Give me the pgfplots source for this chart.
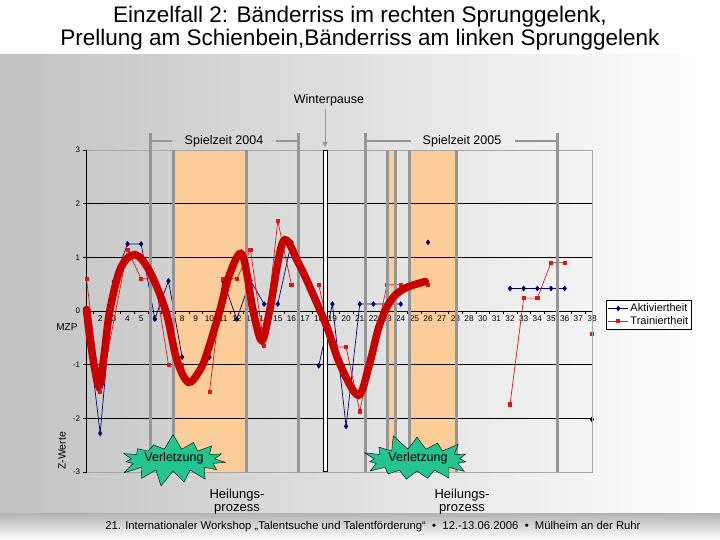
\documentclass[border=0pt]{standalone}
\usepackage{fontspec}
\setmainfont{Liberation Sans}
\usepackage{pgfplots}
\pgfplotsset{compat=1.18}
\usetikzlibrary{shapes.symbols,arrows.meta}
\definecolor{band}{RGB}{252,204,153}
\definecolor{gline}{RGB}{150,150,150}
\definecolor{aktiv}{RGB}{0,0,110}
\definecolor{train}{RGB}{225,20,20}
\definecolor{trend}{RGB}{200,0,0}
\definecolor{burst}{RGB}{36,196,144}
\begin{document}
\begin{tikzpicture}
\path[use as bounding box] (0,0) rectangle (720pt,-540pt);
\fill[white] (0,0) rectangle (720pt,-540pt);
\shade[left color=gray!48, right color=white, middle color=gray!24] (0,-55pt) rectangle (720pt,-513pt);
\shade[top color=gray!60, bottom color=white] (0,-513pt) rectangle (720pt,-540pt);
% title
\node[font=\fontsize{22.5}{26}\selectfont] at (360pt,-17pt) {Einzelfall 2: Bänderriss im rechten Sprunggelenk,};
\node[font=\fontsize{22.5}{26}\selectfont] at (360pt,-40pt) {Prellung am Schienbein,Bänderriss am linken Sprunggelenk};
% bands
\fill[band] (173pt,-150pt) rectangle (246pt,-472pt);
\fill[band] (387.5pt,-150pt) rectangle (395.5pt,-472pt);
\fill[band] (409.5pt,-150pt) rectangle (456pt,-472pt);

\begin{axis}[
  at={(86.5pt,-472pt)}, anchor=south west,
  width=505.5pt, height=322pt, scale only axis,
  xmin=1, xmax=38, ymin=-3, ymax=3,
  axis x line=middle, axis y line=left,
  axis line style={-, black, line width=0.6pt},
  every inner x axis line/.append style={-},
  every outer y axis line/.append style={-},
  hide obscured x ticks=false, hide obscured y ticks=false,
  xtick={1.5,2.5,...,37.5},
  xticklabels={2,3,4,5,6,7,8,9,10,11,12,13,14,15,16,17,18,19,20,21,22,23,24,25,26,27,28,28,30,31,32,33,34,35,36,37,38},
  xticklabel style={xshift=6.83pt, font=\fontsize{8.3}{9}\selectfont, inner sep=1.5pt},
  ytick={-3,-2,-1,0,1,2,3},
  yticklabel style={font=\fontsize{8}{9}\selectfont},
  ymajorgrids, grid style={black, line width=0.5pt},
  tick align=outside, major tick length=3pt, tick style={black, line width=0.5pt},
  unbounded coords=jump, clip=false,
  /pgf/number format/assume math mode=true,
  legend style={at={(1.028,0.534)}, anchor=north west, draw=black, fill=white,
    font=\fontsize{11}{12}\selectfont, inner sep=1.5pt, row sep=-1pt, cells={anchor=west}},
  legend image code/.code={\draw[mark repeat=2,mark phase=2] plot coordinates {(0cm,0cm) (0.35cm,0cm) (0.7cm,0cm)};},
]
\addplot[aktiv, line width=0.7pt, mark=diamond*, mark size=2.3pt, mark options={solid}] coordinates {
(1,-0.15) (2,-2.28) (3,0.55) (4,1.25) (5,1.25) (6,-0.15) (7,0.56) (8,-0.86) (9,nan)
(10,-0.86) (11,0.56) (12,-0.15) (13,0.57) (14,0.13) (15,0.13) (16,1.28) (17,nan)
(18,-1.02) (19,0.13) (20,-2.15) (21,0.13) (22,0.13) (23,0.13) (24,0.13) (25,nan)
(26,1.28) (27,nan) (32,0.42) (33,0.42) (34,0.42) (35,0.42) (36,0.42) (37,nan) (38,-2.02)};
\addlegendentry{Aktiviertheit}
\addplot[train, line width=0.7pt, mark=square*, mark size=1.6pt, mark options={solid}] coordinates {
(1,0.6) (2,-1.51) (4,1.14) (5,0.6) (6,0.6) (7,-1.0) (8,-1.0) (9,nan)
(10,-1.51) (11,0.6) (12,0.6) (13,1.14) (14,-0.65) (15,1.68) (16,0.49) (17,nan)
(18,0.49) (19,-0.67) (20,-0.67) (21,-1.87) (22,-0.67) (23,0.49) (24,0.49) (25,nan)
(26,0.49) (27,nan) (32,-1.74) (33,0.24) (34,0.24) (35,0.9) (36,0.9) (37,nan) (38,-0.42)};
\addlegendentry{Trainiertheit}
\end{axis}

% frame
\draw[gray!70, line width=0.8pt] (86.5pt,-150pt) -- (592pt,-150pt) -- (592pt,-472pt) -- (86.5pt,-472pt);
% gray vertical lines
\foreach \x in {150,298,365,557} {\draw[gline, line width=3pt] (\x pt,-133pt) -- (\x pt,-472pt);}
\foreach \x in {173,246,387.5,395.5,409.5,456} {\draw[gline, line width=3pt] (\x pt,-150pt) -- (\x pt,-472pt);}
% brackets
\draw[gline, line width=2.5pt] (150pt,-141pt) -- (172pt,-141pt);
\draw[gline, line width=2.5pt] (276pt,-141pt) -- (298pt,-141pt);
\draw[gline, line width=2.5pt] (365pt,-141pt) -- (411pt,-141pt);
\draw[gline, line width=2.5pt] (515pt,-141pt) -- (557pt,-141pt);
\node[font=\fontsize{12.5}{14}\selectfont] at (224pt,-141pt) {Spielzeit 2004};
\node[font=\fontsize{12.5}{14}\selectfont] at (462pt,-141pt) {Spielzeit 2005};
% winterpause
\node[font=\fontsize{12.5}{14}\selectfont] at (329pt,-100pt) {Winterpause};
\draw[gline, line width=1pt, -{Triangle[width=5pt,length=5pt]}] (325pt,-109pt) -- (325pt,-147pt);
\draw[black, line width=0.5pt, fill=white] (323.3pt,-150pt) rectangle (327pt,-471pt);
% labels
\node[font=\fontsize{10}{12}\selectfont, anchor=east] at (81pt,-327pt) {MZP};
\node[font=\fontsize{10.5}{12}\selectfont, rotate=90] at (62pt,-451pt) {Z-Werte};

\begin{axis}[
  at={(86.5pt,-472pt)}, anchor=south west,
  width=505.5pt, height=322pt, scale only axis,
  xmin=1, xmax=38, ymin=-3, ymax=3, hide axis, clip=false]
\addplot[trend, line width=7.5pt, smooth, tension=0.55, line cap=round] coordinates {
(1,0.03) (1.3,-0.6) (1.9,-1.4) (2.3,-0.8) (2.7,0) (3.5,0.8) (4.55,1.05) (5.6,0.75)
(6.8,0) (7.6,-0.9) (8.46,-1.33) (9.3,-1.1) (9.8,-0.8) (10.75,0) (11.5,0.7) (12.4,1.05)
(13.2,0) (13.83,-0.55) (14.4,0) (15.4,1.3) (16.5,0.9) (17.6,0.3) (18.6,-0.3) (19.6,-1.02)
(20.9,-1.57) (21.7,-1.0) (22.4,-0.3) (23.2,0.17) (24.2,0.41) (25.8,0.55)};
\end{axis}

% starbursts
\node[starburst, starburst points=15, starburst point height=16pt, random starburst=7, fill=burst, draw=black, line width=0.4pt, minimum width=116pt, minimum height=54pt, inner sep=0pt] at (173pt,-460pt) {};
\node[font=\fontsize{12.5}{14}\selectfont] at (174pt,-458pt) {Verletzung};
\node[starburst, starburst points=15, starburst point height=16pt, random starburst=11, fill=burst, draw=black, line width=0.4pt, minimum width=118pt, minimum height=54pt, inner sep=0pt] at (417pt,-460pt) {};
\node[font=\fontsize{12.5}{14}\selectfont] at (418pt,-458pt) {Verletzung};
% Heilungsprozess
\node[font=\fontsize{13}{13}\selectfont, align=center] at (237pt,-502pt) {Heilungs-\\prozess};
\node[font=\fontsize{13}{13}\selectfont, align=center] at (462pt,-502pt) {Heilungs-\\prozess};
% footer
\node[font=\fontsize{11.3}{13}\selectfont] at (373pt,-527pt) {21. Internationaler Workshop „Talentsuche und Talentförderung“ \ • \ 12.-13.06.2006 \ • \ Mülheim an der Ruhr};
\end{tikzpicture}
\end{document}
